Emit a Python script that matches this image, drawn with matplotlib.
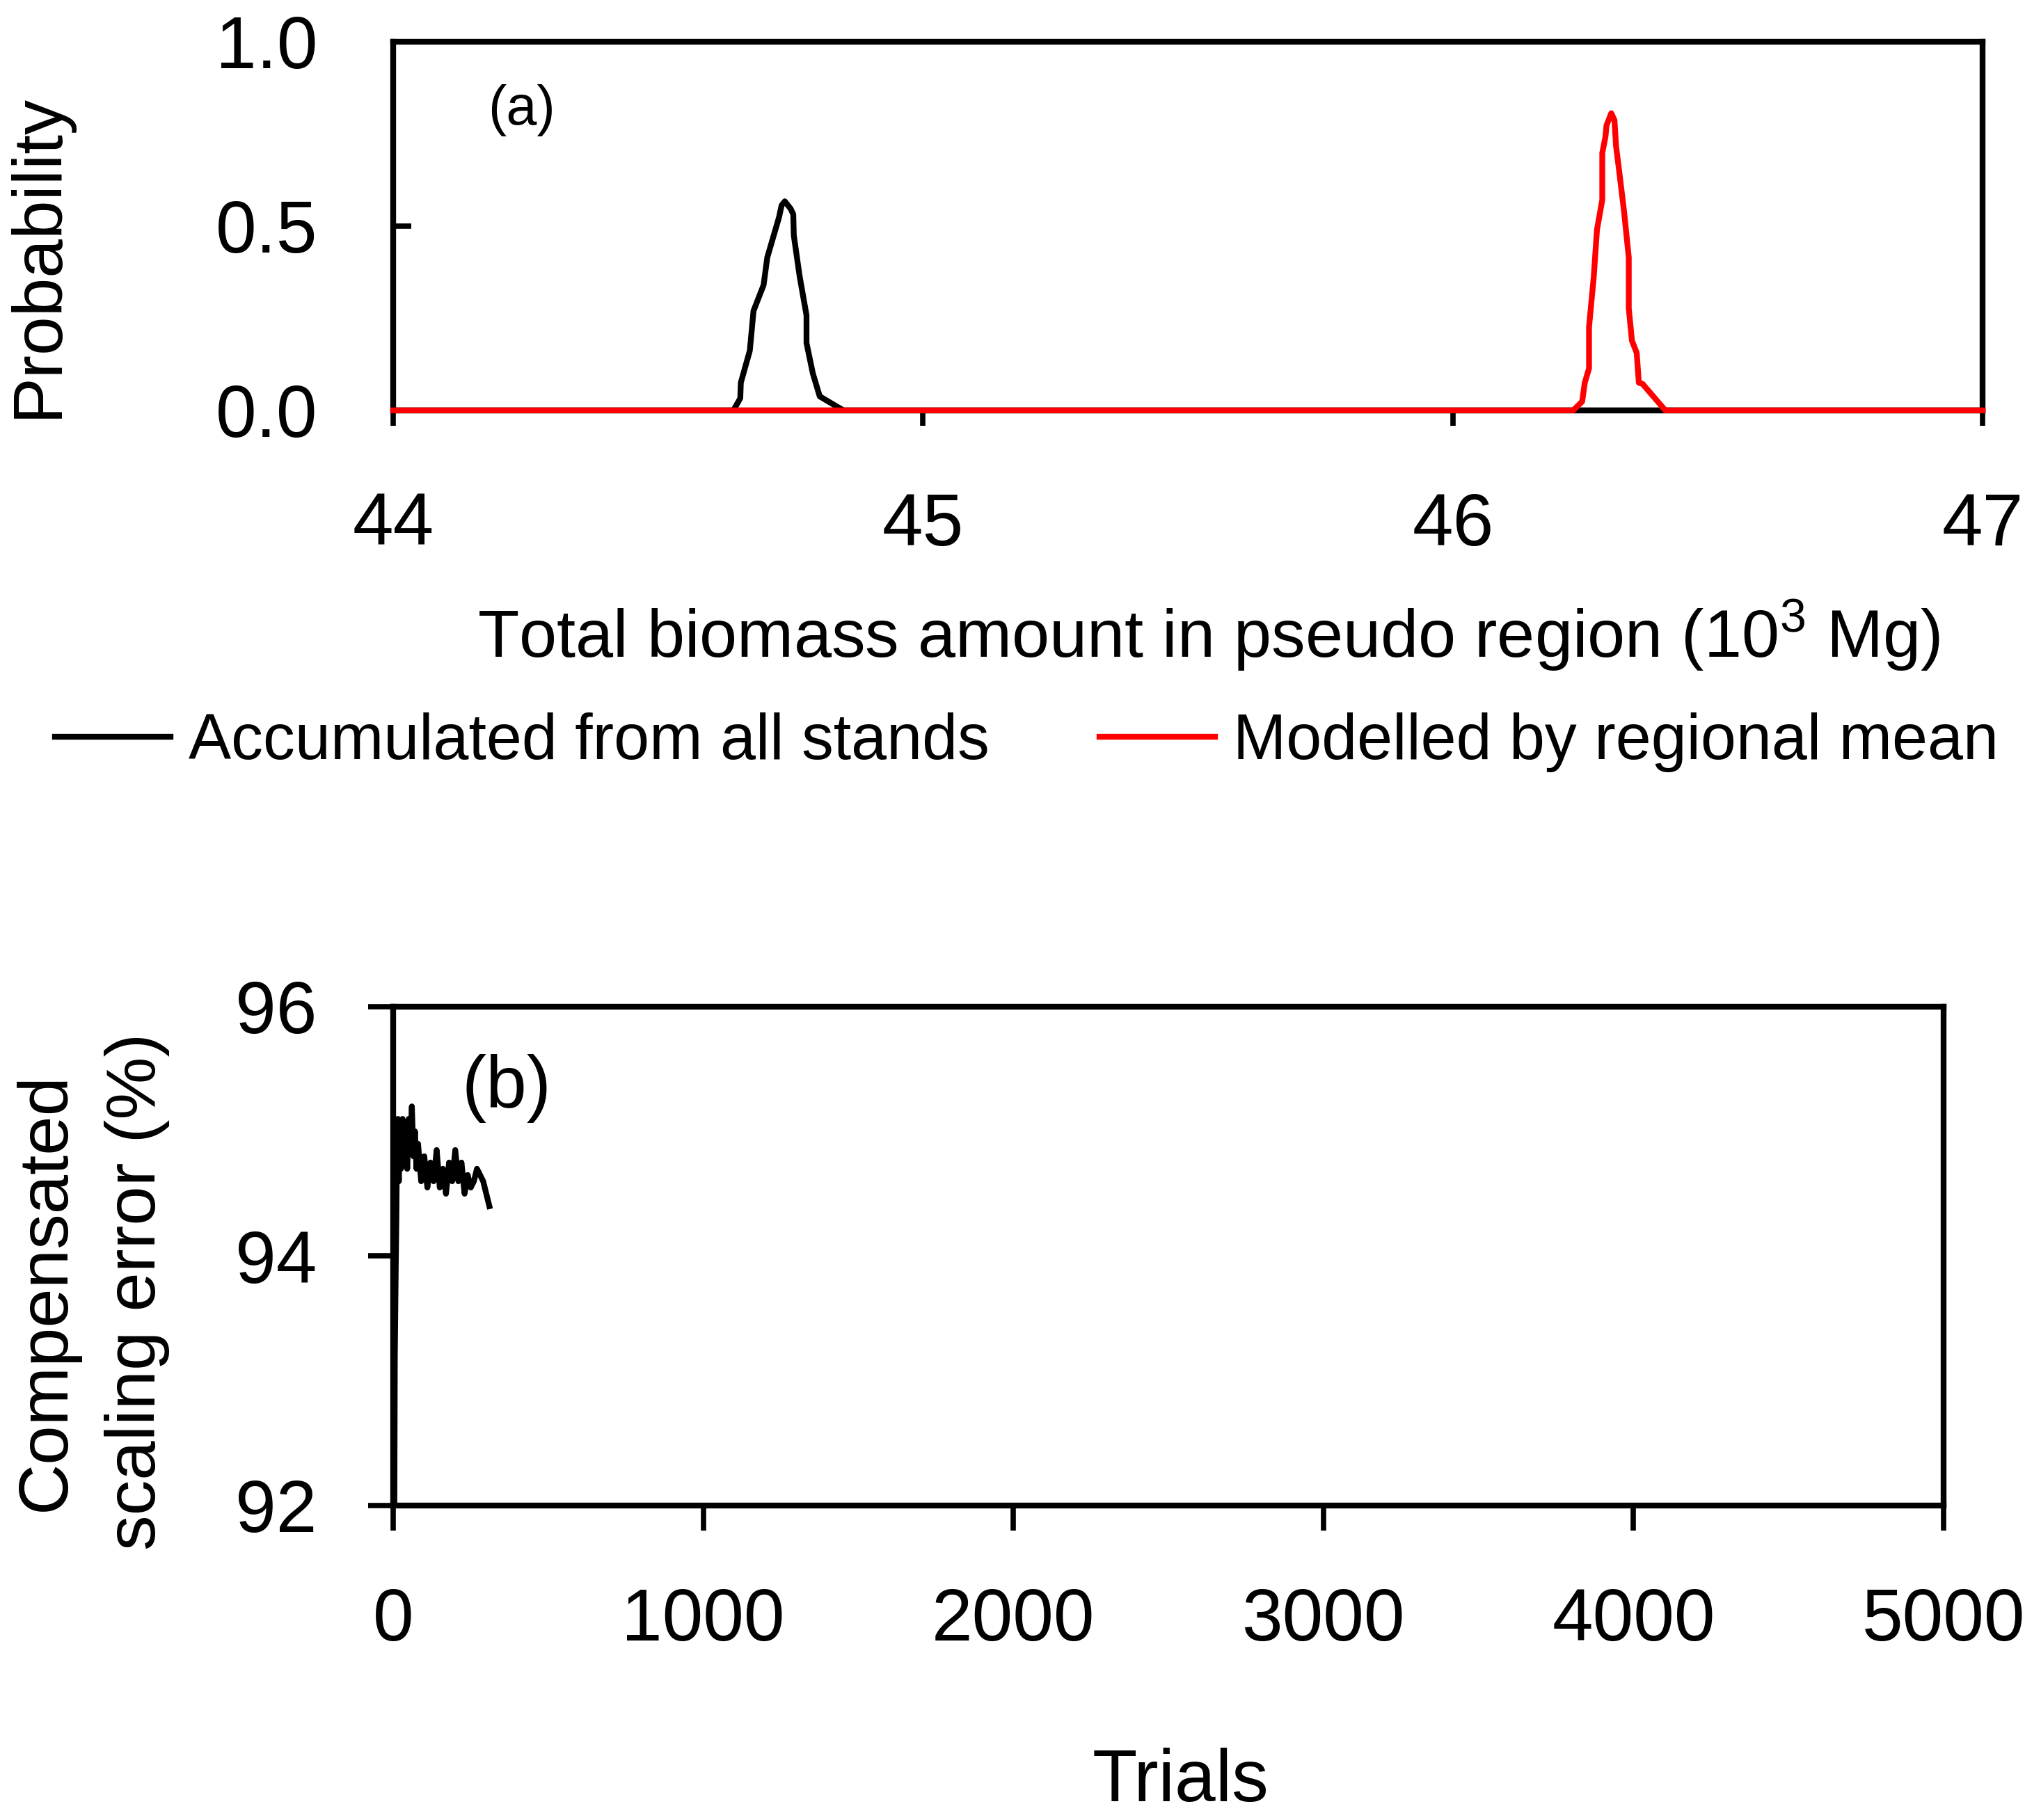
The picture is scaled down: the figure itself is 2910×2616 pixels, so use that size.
import matplotlib
matplotlib.use("Agg")
import matplotlib.pyplot as plt

plt.rcParams['font.family'] = ['Liberation Sans', 'DejaVu Sans']
plt.rcParams['mathtext.fontset'] = 'custom'
plt.rcParams['mathtext.rm'] = 'Liberation Sans'
plt.rcParams['mathtext.it'] = 'Liberation Sans:italic'

# panel (a): probability of total biomass (10^3 Mg)
acc_x = [44.0, 44.642, 44.655, 44.656, 44.673, 44.680, 44.699, 44.706, 44.728,
         44.733, 44.739, 44.750, 44.755, 44.756, 44.767, 44.780, 44.780,
         44.792, 44.805, 44.839, 44.85, 47.0]
acc_y = [0.0, 0.0, 0.033, 0.075, 0.162, 0.270, 0.340, 0.415, 0.523,
         0.556, 0.567, 0.547, 0.532, 0.475, 0.364, 0.258, 0.183,
         0.100, 0.038, 0.009, 0.0, 0.0]

mod_x = [44.0, 46.227, 46.244, 46.249, 46.257, 46.257, 46.266, 46.272, 46.282,
         46.282, 46.288, 46.290, 46.299, 46.305, 46.308, 46.314, 46.323,
         46.332, 46.332, 46.338, 46.347, 46.351, 46.358, 46.401, 47.0]
mod_y = [0.0, 0.0, 0.024, 0.075, 0.114, 0.226, 0.364, 0.490, 0.571,
         0.698, 0.742, 0.773, 0.806, 0.787, 0.717, 0.648, 0.541,
         0.415, 0.277, 0.189, 0.156, 0.075, 0.072, 0.0, 0.0]

# panel (b): compensated scaling error vs trials
trials = [1, 3, 5, 8, 10, 12, 15, 18, 20, 25, 30, 35, 40, 45, 50, 55, 60, 65,
          70, 75, 80, 90, 100, 110, 120, 130, 140, 150, 160, 170, 180, 190,
          200, 210, 220, 230, 240, 250, 260, 270, 280, 290, 300, 310]
comp_err = [88.0, 91.5, 93.2, 93.9, 94.3, 94.9, 95.1, 94.6, 95.0, 94.7, 95.1,
            94.8, 95.0, 94.7, 95.1, 94.9, 95.2, 94.8, 95.0, 94.7, 94.9, 94.6,
            94.8, 94.55, 94.75, 94.6, 94.85, 94.55, 94.7, 94.5, 94.75, 94.6,
            94.85, 94.6, 94.75, 94.5, 94.65, 94.55, 94.6, 94.7, 94.65, 94.6,
            94.5, 94.4]

FS = 76
LW = 6

fig = plt.figure(figsize=(29.10, 26.16), dpi=100)

ax1 = fig.add_axes([0.1942, 0.7745, 0.7849, 0.2026])
ax1.plot(acc_x, acc_y, color='black', lw=LW, label='Accumulated from all stands',
         zorder=3)
ax1.plot(mod_x, mod_y, color='red', lw=LW, label='Modelled by regional mean',
         zorder=4, clip_on=False)
ax1.set_xlim(44, 47)
ax1.set_ylim(0, 1)
ax1.set_xticks([44, 45, 46, 47])
ax1.set_yticks([0, 0.5, 1.0])
ax1.set_yticklabels(['0.0', '0.5', '1.0'])
ax1.tick_params(axis='x', direction='out', length=16, width=5.5, pad=68,
                labelsize=FS, top=False)
ax1.tick_params(axis='y', direction='in', length=19, width=5.5, pad=78,
                labelsize=FS, right=False)
for s in ax1.spines.values():
    s.set_linewidth(6)
ax1.text(0.2577, 0.9396, '(a)', transform=fig.transFigure, fontsize=57,
         ha='center', va='center')
fig.text(0.0192, 0.8597, 'Probability', rotation=90, fontsize=72,
         ha='center', va='center')
fig.text(0.597, 0.651, r'Total biomass amount in pseudo region (10$^3$ Mg)',
         fontsize=70, ha='center', va='center')
fig.legend(loc='center', bbox_to_anchor=(0.507, 0.592), ncol=2, frameon=False,
           fontsize=66, handlelength=1.82, handletextpad=0.28,
           columnspacing=1.72, borderpad=0, borderaxespad=0)

ax2 = fig.add_axes([0.1942, 0.1728, 0.7656, 0.2741])
ax2.plot(trials, comp_err, color='black', lw=LW)
ax2.set_xlim(0, 5000)
ax2.set_ylim(92, 96)
ax2.set_xticks([0, 1000, 2000, 3000, 4000, 5000])
ax2.set_yticks([92, 94, 96])
ax2.tick_params(axis='both', direction='out', length=26, width=5.5,
                labelsize=FS, top=False, right=False)
ax2.tick_params(axis='x', pad=58)
ax2.tick_params(axis='y', pad=53)
for s in ax2.spines.values():
    s.set_linewidth(6)
fig.text(0.25, 0.4018, '(b)', fontsize=FS, ha='center', va='center')
fig.text(0.0454, 0.2905, 'Compensated\nscaling error (%)', rotation=90,
         fontsize=73, ha='center', va='center', multialignment='center',
         linespacing=1.5)
fig.text(0.583, 0.021, 'Trials', fontsize=FS, ha='center', va='center')

fig.savefig('out.png', dpi=100)
